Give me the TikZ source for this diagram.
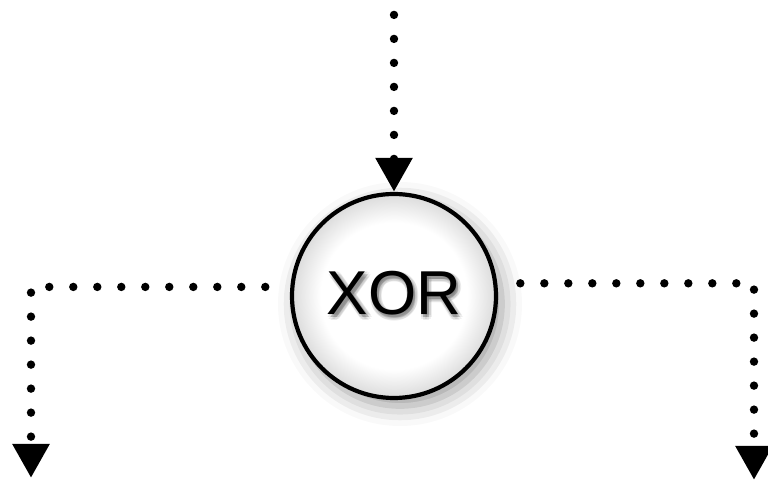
\documentclass[tikz,border=0pt]{standalone}
\usepackage{fontspec}
\setmainfont{Liberation Sans}
\usetikzlibrary{arrows.meta, positioning, shadows.blur}

\pgfdeclareradialshading{xorglow}{\pgfpoint{0bp}{0bp}}{color(0bp)=(white); color(18bp)=(white); color(25bp)=(black!14); color(50bp)=(black!14)}

% soft shadow behind a label: faint copies round an offset, then the text
\newcommand{\shadowpart}[4]{\rlap{\hspace*{#1}\raisebox{#2}{\pgfsetfillopacity{#3}#4}}}
\newcommand{\shadowed}[1]{%
  \shadowpart{1.2pt}{-1.6pt}{0.18}{#1}%
  \shadowpart{2.6pt}{-1.6pt}{0.07}{#1}\shadowpart{-0.2pt}{-1.6pt}{0.07}{#1}%
  \shadowpart{1.2pt}{-3.0pt}{0.07}{#1}\shadowpart{1.2pt}{-0.2pt}{0.07}{#1}%
  \shadowpart{2.2pt}{-2.6pt}{0.06}{#1}\shadowpart{0.2pt}{-0.6pt}{0.06}{#1}%
  \shadowpart{2.2pt}{-0.6pt}{0.06}{#1}\shadowpart{0.2pt}{-2.6pt}{0.06}{#1}%
  \pgfsetfillopacity{1}#1}

\begin{document}
\begin{tikzpicture}[
    x=0.5pt, y=-0.5pt,
    gate/.style={draw, circle, line width=2.1pt, minimum size=102pt, inner sep=0pt, shading=xorglow,
        blur shadow={shadow xshift=3pt, shadow yshift=-4pt, shadow blur radius=10pt, shadow opacity=40},
        font=\fontsize{31}{31}\selectfont},
    flow/.style={line width=4.2pt, line cap=round, dash pattern=on 0pt off 12pt,
        -{Triangle[length=17pt, width=17.5pt]}}
]
\useasboundingbox (0,0) rectangle (768,480);
\node[gate] (xor) at (394,296) {\shadowed{XOR}};
\coordinate[above=88.5pt of xor.north] (in);
\coordinate (outl) at (31,478);
\coordinate (outr) at (754,480);

\draw[flow] (in) -- (xor.north);
\draw[flow, shorten <=12.5pt] (xor.175) -| (outl);
\draw[flow, shorten <=11.5pt] (xor.7) -| (outr);
\end{tikzpicture}
\end{document}
